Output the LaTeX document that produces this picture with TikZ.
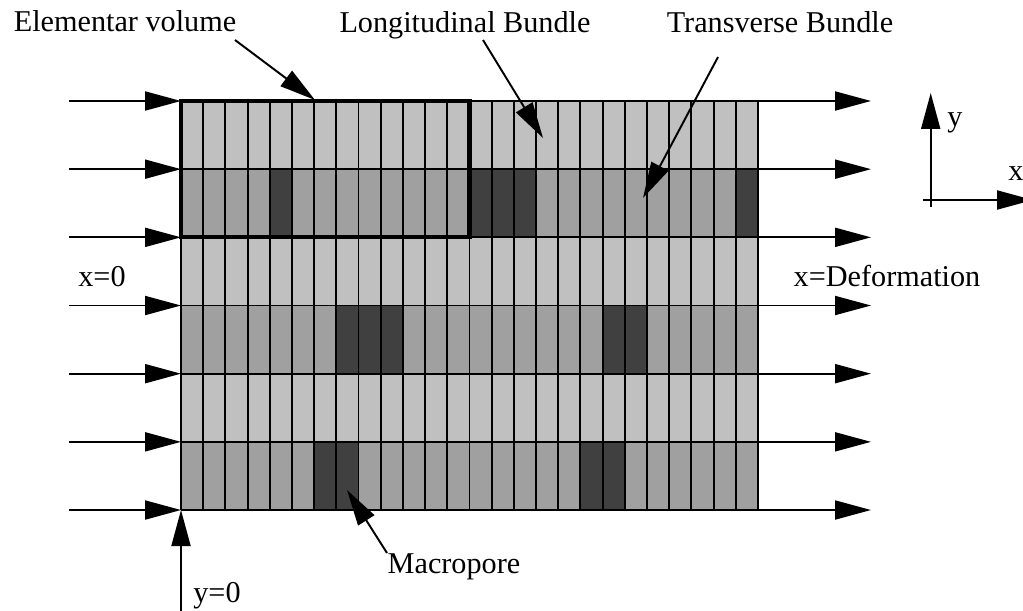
\documentclass[tikz,border=0pt]{standalone}
\usepackage{fontspec}
\setmainfont{Liberation Serif}
\usetikzlibrary{arrows.meta}
\definecolor{lightc}{HTML}{C0C0C0}
\definecolor{medc}{HTML}{A0A0A0}
\definecolor{darkc}{HTML}{404040}
\begin{document}
\begin{tikzpicture}[x=0.02cm,y=-0.02cm,
  lbl/.style={font=\fontsize{17.2}{20}\selectfont, inner sep=0pt, anchor=base},
  arr/.style={line width=1.1pt, -{Triangle[length=0.72cm,width=0.38cm]}},
  cellline/.style={line width=1.1pt},
  evbox/.style={line width=2.4pt}]
\useasboundingbox (0,0) rectangle (1023,611);
\clip (0,0) rectangle (1023,611);
\def\cw{22.19}
\def\rh{68.17}
% rows
\foreach \r in {0,2,4}
  \fill[lightc] (181,{101+\r*\rh}) rectangle (758,{101+(\r+1)*\rh});
\foreach \r in {1,3,5}
  \fill[medc] (181,{101+\r*\rh}) rectangle (758,{101+(\r+1)*\rh});
% macropores
\foreach \r/\c in {1/4,1/13,1/14,1/15,1/25,3/7,3/8,3/9,3/19,3/20,5/6,5/7,5/18,5/19}
  \fill[darkc] ({181+\c*\cw},{101+\r*\rh}) rectangle ({181+(\c+1)*\cw},{101+(\r+1)*\rh});
% grid lines
\foreach \c in {0,...,26}
  \draw[cellline] ({181+\c*\cw},101) -- ({181+\c*\cw},510);
\foreach \r in {0,...,6}
  \draw[cellline] (181,{101+\r*\rh}) -- (758,{101+\r*\rh});
% elementar volume box
\draw[evbox] (181,101) rectangle ({181+13*\cw},{101+2*\rh});
% boundary arrows
\foreach \i in {0,...,6} {
  \coordinate (L\i) at (69,{101+\i*\rh});
  \coordinate (G\i) at (181,{101+\i*\rh});
  \coordinate (H\i) at (758,{101+\i*\rh});
  \coordinate (R\i) at (871,{101+\i*\rh});
  \draw[arr] (L\i) -- (G\i);
  \draw[arr] (H\i) -- (R\i);
}
% labels
\node[lbl] (ev) at (125,32) {Elementar volume};
\node[lbl] (lb) at (465,33) {Longitudinal Bundle};
\node[lbl] (tb) at (780,33) {Transverse Bundle};
\node[lbl] (x0) at (102,286) {x=0};
\node[lbl] (xd) at (887,286) {x=Deformation};
\node[lbl] (mp) at (454,573) {Macropore};
\node[lbl] (y0) at (217,602) {y=0};
\node[lbl] (ly) at (955,127) {y};
\node[lbl] (lx) at (1016,180) {x};
% annotation arrows
\coordinate (evs) at (235,40);
\coordinate (evt) at (315,100);
\draw[arr] (evs) -- (evt);
\coordinate (lbs) at (483,40);
\coordinate (lbt) at (543,138);
\draw[arr] (lbs) -- (lbt);
\coordinate (tbs) at (718,57);
\coordinate (tbt) at (643,198);
\draw[arr] (tbs) -- (tbt);
\coordinate (mps) at (387,553);
\coordinate (mpt) at (347,490);
\draw[arr] (mps) -- (mpt);
\coordinate (y0s) at (181,615);
\draw[arr] (y0s) -- (G6);
% axes
\coordinate (ayo) at (930.7,207);
\coordinate (ayt) at (930.7,93);
\draw[arr] (ayo) -- (ayt);
\coordinate (axo) at (923,200);
\coordinate (axt) at (1033,200);
\draw[arr] (axo) -- (axt);
\end{tikzpicture}
\end{document}
